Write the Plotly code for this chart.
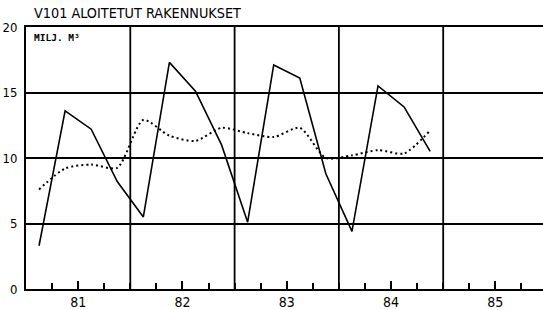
import plotly.graph_objects as go

# ---- data ----
years = ["81", "82", "83", "84", "85"]
quarters = ["81Q1","81Q2","81Q3","81Q4","82Q1","82Q2","82Q3","82Q4",
            "83Q1","83Q2","83Q3","83Q4","84Q1","84Q2","84Q3","84Q4"]
started = [3.3, 13.6, 12.2, 8.2, 5.5, 17.3, 15.1, 11.0,
           5.1, 17.1, 16.1, 8.8, 4.4, 15.5, 13.9, 10.5]
trend = [7.6, 9.2, 9.5, 9.25, 12.9, 11.7, 11.3, 12.3,
         11.9, 11.6, 12.3, 10.0, 10.2, 10.6, 10.35, 12.1]
y_ticks = [0, 5, 10, 15, 20]

FONT = "DejaVu Sans Condensed, sans-serif"
W, H = 543, 310
PW, PH = 517, 262  # plot area size in px

def qpos(q):
    yr = 1900 + int(q[:2])
    n = int(q[3])
    return yr + (n - 0.5) / 4

x = [qpos(q) for q in quarters]
year_mid = [1900 + int(y) + 0.5 for y in years]
year_bounds = [1900 + int(y) for y in years[1:]]

fig = go.Figure()
fig.add_trace(go.Scatter(x=x, y=trend, mode="lines",
                         line=dict(color="black", width=2, dash="2px,3px",
                                   shape="spline", smoothing=0.7),
                         showlegend=False, hoverinfo="skip"))
fig.add_trace(go.Scatter(x=x, y=started, mode="lines",
                         line=dict(color="black", width=1.6),
                         showlegend=False, hoverinfo="skip"))

for b in year_bounds:
    fig.add_shape(type="line", xref="x", yref="paper", x0=b, x1=b, y0=0, y1=1,
                  line=dict(color="black", width=1.8), layer="below")

fig.update_layout(
    width=W, height=H,
    margin=dict(l=26, r=0, t=27, b=21),
    paper_bgcolor="white", plot_bgcolor="white",
    font=dict(family=FONT, color="black", size=14),
    xaxis=dict(range=[1981, 1981 + PW/104.3], automargin=False,
               tickvals=year_mid, ticktext=years,
               ticks="inside", ticklen=8, tickwidth=1.5, tickcolor="black",
               minor=dict(tick0=1981, dtick=0.25, ticks="inside", ticklen=6,
                          tickwidth=1.5, tickcolor="black", showgrid=False),
               showgrid=False, zeroline=False, ticklabelstandoff=-1,
               showline=True, linecolor="black", linewidth=2, mirror=True,
               tickfont=dict(family=FONT, size=14, color="black")),
    yaxis=dict(range=[0, 20], tickvals=y_ticks, ticks="", automargin=False,
               showgrid=True, gridcolor="black", gridwidth=2,
               zeroline=False, showline=True, linecolor="black", linewidth=2,
               ticklabelstandoff=4,
               tickfont=dict(family=FONT, size=13, color="black")),
)

# title
fig.add_annotation(text="V101 ALOITETUT RAKENNUKSET", xref="paper", yref="paper",
                   x=6/PW, y=1 + 14/PH, xanchor="left", yanchor="middle",
                   showarrow=False, font=dict(family=FONT, size=14.3, color="black"))
# unit label
fig.add_annotation(text="<b>MILJ. M³</b>", xref="paper", yref="paper",
                   x=6/PW, y=1 - 3/PH, xanchor="left", yanchor="top",
                   showarrow=False,
                   font=dict(family="DejaVu Sans Mono, monospace", size=9.5,
                             color="black"))

fig.write_html("out.html", config={"displayModeBar": False},
               post_script="document.body.style.margin='0';"
                           "document.body.style.overflow='hidden';")
